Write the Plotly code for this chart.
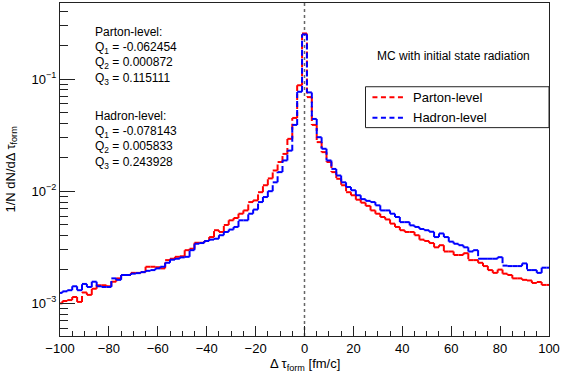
import plotly.graph_objects as go

# ---- data -------------------------------------------------------------
bin_centers = list(range(-100, 101, 2))
bin_width = 2

parton = [
    1.00e-3, 1.05e-3, 1.07e-3, 1.14e-3, 1.03e-3, 1.25e-3, 1.19e-3, 1.35e-3, 1.45e-3, 1.45e-3,
    1.42e-3, 1.56e-3, 1.67e-3, 1.79e-3, 1.79e-3, 1.87e-3, 1.87e-3, 1.90e-3, 2.12e-3, 2.12e-3,
    2.10e-3, 2.05e-3, 2.43e-3, 2.50e-3, 2.60e-3, 2.63e-3, 2.98e-3, 3.07e-3, 3.47e-3, 3.47e-3,
    3.60e-3, 3.90e-3, 4.49e-3, 4.33e-3, 5.00e-3, 5.50e-3, 5.77e-3, 6.30e-3, 6.74e-3, 8.00e-3,
    8.28e-3, 9.80e-3, 1.13e-2, 1.30e-2, 1.53e-2, 1.82e-2, 2.15e-2, 2.93e-2, 4.50e-2, 8.80e-2,
    0.255,
    6.90e-2, 3.90e-2, 2.74e-2, 2.23e-2, 1.82e-2, 1.48e-2, 1.29e-2, 1.13e-2, 9.80e-3, 9.20e-3,
    8.40e-3, 7.90e-3, 7.40e-3, 6.74e-3, 6.30e-3, 5.89e-3, 5.60e-3, 5.14e-3, 4.80e-3, 4.49e-3,
    4.33e-3, 4.33e-3, 4.05e-3, 3.70e-3, 3.60e-3, 3.45e-3, 3.16e-3, 3.30e-3, 2.90e-3, 2.90e-3,
    2.70e-3, 2.70e-3, 2.80e-3, 2.43e-3, 2.43e-3, 2.30e-3, 2.15e-3, 1.98e-3, 1.87e-3, 2.00e-3,
    1.84e-3, 1.79e-3, 1.67e-3, 1.67e-3, 1.62e-3, 1.60e-3, 1.52e-3, 1.55e-3, 1.46e-3, 1.46e-3,
]

hadron = [
    1.24e-3, 1.28e-3, 1.31e-3, 1.42e-3, 1.31e-3, 1.49e-3, 1.40e-3, 1.56e-3, 1.42e-3, 1.40e-3,
    1.40e-3, 1.67e-3, 1.62e-3, 1.79e-3, 1.79e-3, 1.84e-3, 1.86e-3, 1.90e-3, 1.95e-3, 1.98e-3,
    2.05e-3, 2.12e-3, 2.30e-3, 2.45e-3, 2.50e-3, 2.57e-3, 2.60e-3, 2.98e-3, 3.40e-3, 3.45e-3,
    3.60e-3, 3.70e-3, 3.77e-3, 4.05e-3, 4.33e-3, 4.55e-3, 4.80e-3, 5.50e-3, 5.50e-3, 6.30e-3,
    6.86e-3, 8.00e-3, 8.87e-3, 1.00e-2, 1.20e-2, 1.48e-2, 1.88e-2, 2.30e-2, 3.90e-2, 7.70e-2,
    0.250,
    7.60e-2, 4.41e-2, 3.03e-2, 2.39e-2, 1.88e-2, 1.58e-2, 1.38e-2, 1.20e-2, 1.09e-2, 1.02e-2,
    9.20e-3, 8.50e-3, 8.20e-3, 8.00e-3, 7.48e-3, 6.74e-3, 6.74e-3, 6.30e-3, 5.89e-3, 5.30e-3,
    5.30e-3, 4.96e-3, 4.80e-3, 4.60e-3, 4.49e-3, 4.35e-3, 3.90e-3, 4.20e-3, 3.90e-3, 3.55e-3,
    3.40e-3, 3.30e-3, 3.16e-3, 2.90e-3, 2.98e-3, 2.50e-3, 2.50e-3, 2.50e-3, 2.50e-3, 2.58e-3,
    2.17e-3, 2.15e-3, 2.15e-3, 2.15e-3, 2.27e-3, 1.98e-3, 1.98e-3, 1.87e-3, 2.08e-3, 2.08e-3,
]

series_names = ["Parton-level", "Hadron-level"]
series_colors = ["#ff0000", "#0000ff"]

parton_q = ["Q<sub>1</sub> = -0.062454", "Q<sub>2</sub> = 0.000872", "Q<sub>3</sub> = 0.115111"]
hadron_q = ["Q<sub>1</sub> = -0.078143", "Q<sub>2</sub> = 0.005833", "Q<sub>3</sub> = 0.243928"]

x_range = [-100, 100]
y_range_log = [-3.291, -0.322]
major_vals = [1e-3, 1e-2, 1e-1]
major_text = ["10<sup>−3</sup>", "10<sup>−2</sup>", "10<sup>−1</sup>"]
minor_digits = [2, 3, 4, 5, 6, 7, 8, 9]
decades = [-4, -3, -2, -1]

FONT = "Liberation Sans, Arial, Helvetica, sans-serif"
AX = "#222222"

# plot-area geometry in pixels (for placing text / legend)
L, R, T, B = 60, 553, 2, 336
PW, PH = R - L, B - T


def step_segments(centers, values, w):
    """Separate sub-paths per histogram edge so the dash pattern restarts
    on every segment (as in the ROOT drawing)."""
    xs, ys = [], []
    h = w / 2.0
    for i, (c, v) in enumerate(zip(centers, values)):
        xs += [c - h, c + h, None]
        ys += [v, v, None]
        if i + 1 < len(values):
            xs += [c + h, c + h, None]
            ys += [v, values[i + 1], None]
    return xs, ys


def px_x(px):
    return (px - L) / PW


def px_y(py):
    return (B - py) / PH


fig = go.Figure()
for name, vals, col in zip(series_names, [parton, hadron], series_colors):
    xs, ys = step_segments(bin_centers, vals, bin_width)
    fig.add_trace(go.Scatter(
        x=xs, y=ys, mode="lines", name=name, connectgaps=False,
        line=dict(color=col, width=2, dash="6px,3px"),
        hoverinfo="skip", showlegend=False,
    ))

# vertical dotted line at zero
fig.add_shape(type="line", xref="x", yref="paper", x0=0, x1=0, y0=0, y1=1,
              line=dict(color="#666666", width=1.5, dash="dot"), layer="below")

# ---- legend box (ROOT TLegend style) ----
fig.add_shape(type="rect", xref="paper", yref="paper",
              x0=px_x(368), x1=px_x(553), y0=px_y(127), y1=px_y(86),
              line=dict(color=AX, width=1), fillcolor="white", layer="above")
leg_rows = [96.5, 117]
for name, col, py in zip(series_names, series_colors, leg_rows):
    fig.add_shape(type="line", xref="paper", yref="paper",
                  x0=px_x(375), x1=px_x(406), y0=px_y(py), y1=px_y(py),
                  line=dict(color=col, width=2, dash="5px,3.5px"), layer="above")

annotations = []


def txt(s, px, py, anchor="left", size=12):
    annotations.append(dict(text=s, xref="paper", yref="paper", x=px_x(px), y=px_y(py),
                            xanchor=anchor, yanchor="middle", showarrow=False,
                            font=dict(family=FONT, size=size, color="black")))


for name, py in zip(series_names, leg_rows):
    txt(name, 414, py, size=13)

txt("Parton-level:", 93, 31)
for i, s in enumerate(parton_q):
    txt(s, 93, 47 + i * 15.5)
txt("Hadron-level:", 93, 115)
for i, s in enumerate(hadron_q):
    txt(s, 93, 131 + i * 15.5)
txt("MC with initial state radiation", 457, 55, anchor="center")

# axis titles
annotations.append(dict(text="1/N dN/dΔ τ<sub>form</sub>", xref="paper", yref="paper",
                        x=0, y=0.5, xshift=-49, textangle=-90, showarrow=False,
                        xanchor="center", yanchor="middle",
                        font=dict(family=FONT, size=13, color="black")))
annotations.append(dict(text="Δ τ<sub>form</sub> [fm/c]", xref="paper", yref="paper",
                        x=0.5, y=0, yshift=-28, showarrow=False,
                        xanchor="center", yanchor="middle",
                        font=dict(family=FONT, size=13, color="black")))

minor_vals = [d * 10.0 ** e for e in decades for d in minor_digits]

fig.update_layout(
    width=562, height=379,
    margin=dict(l=L, r=562 - R, t=T, b=379 - B),
    paper_bgcolor="white", plot_bgcolor="white",
    font=dict(family=FONT, size=13, color="black"),
    annotations=annotations,
    showlegend=False,
    xaxis=dict(
        range=x_range, showgrid=False, zeroline=False,
        showline=True, mirror=True, linecolor=AX, linewidth=1,
        ticks="inside", ticklen=10, tickcolor=AX, dtick=20, tick0=0,
        minor=dict(ticks="inside", ticklen=5, dtick=5, tickcolor=AX, showgrid=False),
        tickfont=dict(family=FONT, size=13), ticklabeloverflow="allow",
    ),
    yaxis=dict(
        type="log", range=y_range_log, showgrid=False, zeroline=False,
        showline=True, mirror=True, linecolor=AX, linewidth=1,
        ticks="inside", ticklen=15, tickcolor=AX,
        tickmode="array", tickvals=major_vals, ticktext=major_text,
        minor=dict(tickmode="array", tickvals=minor_vals, ticks="inside", ticklen=8,
                   tickcolor=AX, showgrid=False),
        tickfont=dict(family=FONT, size=13),
    ),
)

fig.write_html("out.html")
